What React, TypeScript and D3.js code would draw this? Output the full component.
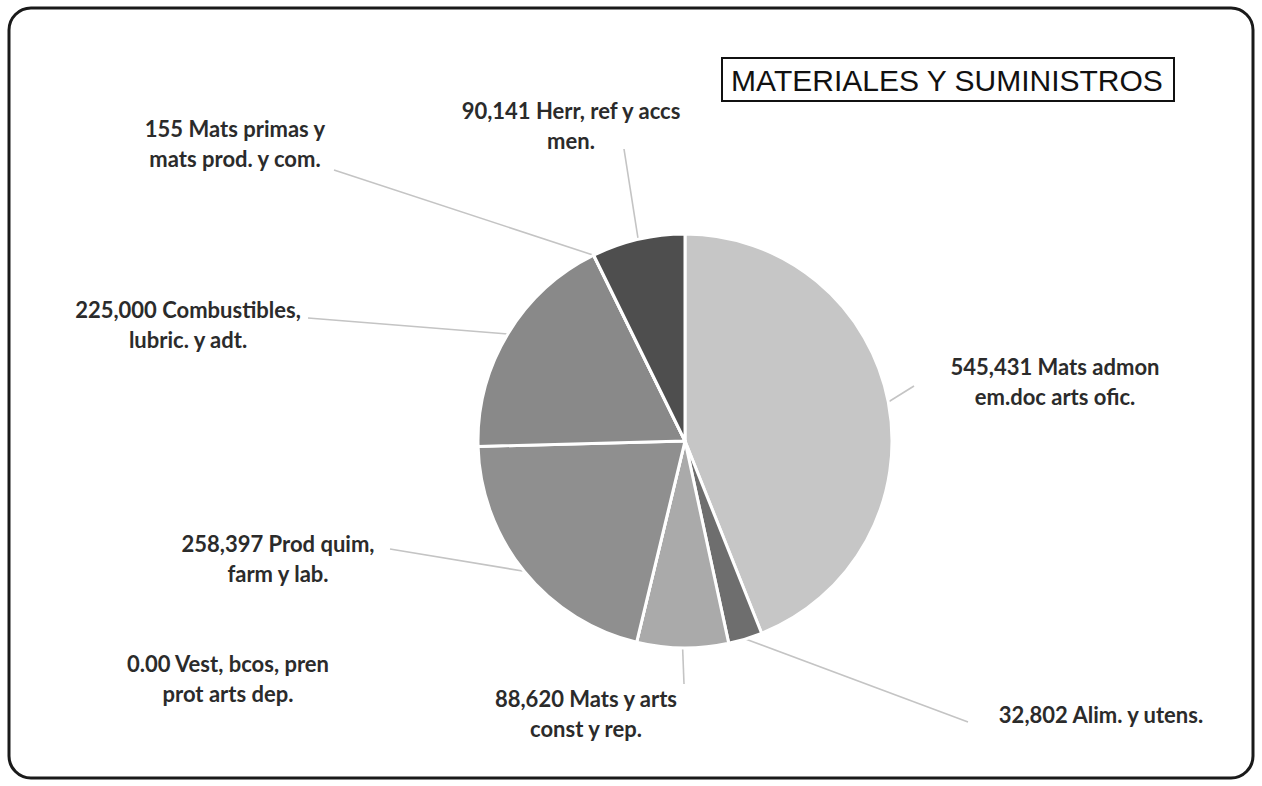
import React from 'react';
import * as d3 from 'd3';

// slice order, clockwise from 12 o'clock
const names: string[][] = [
  ['Mats admon', 'em.doc arts ofic.'],
  ['Alim. y utens.'],
  ['Mats y arts', 'const y rep.'],
  ['Vest, bcos, pren', 'prot arts dep.'],
  ['Prod quim,', 'farm y lab.'],
  ['Combustibles,', 'lubric. y adt.'],
  ['Mats primas y', 'mats prod. y com.'],
  ['Herr, ref y accs', 'men.'],
];
const values = [545431, 32802, 88620, 0, 258397, 225000, 155, 90141];
const greys = ['#c6c6c6', '#6e6e6e', '#aaaaaa', '#9a9a9a', '#8f8f8f', '#898989', '#7a7a7a', '#4e4e4e'];

// label placement (centre / baseline of first line) and where each leader line ends
const labelPos: [number, number][] = [
  [1055, 375], [1101, 723], [586, 707], [228, 672],
  [278, 552], [188, 318], [235, 137], [571, 119],
];
const leaderEnd: ([number, number] | null)[] = [
  [914, 386], [968, 722], [684, 684], null,
  [390, 549], [308, 318], [334, 170], [624, 149],
];

const W = 1262;
const H = 786;
const cx = 685;
const cy = 441;
const R = 207;

export default function App() {
  const pie = d3.pie<number>().sort(null).value(d => d);
  const arcs = pie(values);
  const arc = d3.arc<d3.PieArcDatum<number>>().innerRadius(0).outerRadius(R);
  const fmt = (v: number) => (v === 0 ? '0.00' : d3.format(',')(v));

  const edgePoint = (a: d3.PieArcDatum<number>) => {
    const m = (a.startAngle + a.endAngle) / 2;
    return [cx + R * Math.sin(m), cy - R * Math.cos(m)];
  };

  return (
    <div style={{ position: 'absolute', left: 0, top: 0 }}>
      <svg width={W} height={H} style={{ display: 'block', background: '#fff' }}>
        <rect x={9} y={8} width={W - 18} height={H - 16} rx={22} ry={22}
          fill="#fff" stroke="#1a1a1a" strokeWidth={3} />

        {/* leader lines */}
        {arcs.map((a, i) => {
          const end = leaderEnd[i];
          if (!end) return null;
          const [x0, y0] = edgePoint(a);
          return (
            <line key={'l' + i} x1={x0} y1={y0} x2={end[0]} y2={end[1]}
              stroke="#c4c4c4" strokeWidth={1.6} />
          );
        })}

        <g transform={`translate(${cx},${cy})`}>
          {arcs.map((a, i) => (
            <path key={'s' + i} d={arc(a) || ''} fill={greys[i]}
              stroke="#fff" strokeWidth={3} strokeLinejoin="round" />
          ))}
        </g>

        {/* labels */}
        {names.map((lines, i) => {
          const [x, y] = labelPos[i];
          const all = [fmt(values[i]) + ' ' + lines[0], ...lines.slice(1)];
          return (
            <text key={'t' + i} x={x} y={y} textAnchor="middle"
              fontFamily="Lato, 'Open Sans', sans-serif" fontSize={22} fontWeight={700} fill="#2b2b2b">
              {all.map((s, j) => (
                <tspan key={j} x={x} dy={j === 0 ? 0 : 30}>{s}</tspan>
              ))}
            </text>
          );
        })}

        {/* title box */}
        <rect x={722} y={58} width={452} height={43} fill="#fff" stroke="#111" strokeWidth={2} />
        <text x={947} y={91} textAnchor="middle" fontFamily="'Liberation Sans', Arial, sans-serif"
          fontSize={30} fill="#111">MATERIALES Y SUMINISTROS</text>
      </svg>
    </div>
  );
}
